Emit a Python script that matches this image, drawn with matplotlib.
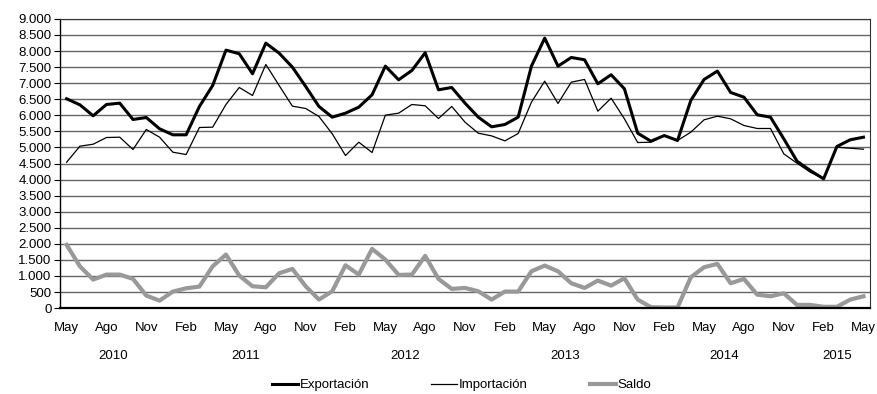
import matplotlib
matplotlib.use("Agg")
import matplotlib.pyplot as plt
from matplotlib.ticker import FuncFormatter, MultipleLocator

plt.rcParams["font.family"] = ["Liberation Sans", "DejaVu Sans"]

# Monthly series, May 2010 - May 2015 (millions)
exportacion = [
    6515, 6327, 5985, 6337, 6378, 5870, 5932, 5580, 5393, 5393, 6275, 6929,
    8028, 7916, 7293, 8246, 7935, 7499, 6898, 6275, 5942, 6067, 6254, 6638,
    7530, 7105, 7396, 7947, 6794, 6866, 6378, 5942, 5642, 5714, 5942, 7530,
    8402, 7530, 7800, 7728, 6981, 7262, 6825, 5443, 5194, 5371, 5216, 6462,
    7116, 7375, 6711, 6565, 6016, 5942, 5269, 4571, 4282, 4023, 5029, 5238,
    5319,
]
importacion = [
    4540, 5039, 5101, 5309, 5319, 4936, 5559, 5319, 4852, 4780, 5621, 5631,
    6337, 6866, 6617, 7583, 6929, 6285, 6213, 5963, 5425, 4749, 5163, 4842,
    6004, 6067, 6337, 6296, 5900, 6275, 5786, 5443, 5360, 5205, 5433, 6409,
    7063, 6368, 7032, 7116, 6128, 6533, 5891, 5153, 5163, 5371, 5216, 5475,
    5860, 5973, 5891, 5683, 5590, 5590, 4801, 4509, 4229, 4023, 5008, 4976,
    4945,
]
saldo = [
    1968, 1302, 887, 1043, 1043, 909, 389, 233, 514, 617, 670, 1302,
    1666, 1012, 680, 648, 1084, 1220, 680, 265, 524, 1333, 1043, 1843,
    1510, 1033, 1043, 1625, 909, 597, 628, 524, 265, 514, 514, 1146,
    1323, 1146, 773, 628, 856, 700, 929, 265, 30, 20, 20, 960,
    1272, 1376, 773, 909, 420, 368, 462, 100, 100, 40, 40, 265,
    368,
]
month_labels = ["May", "Ago", "Nov", "Feb"]
years = ["2010", "2011", "2012", "2013", "2014", "2015"]
# first and last month index of each year within the series
year_spans = [(0, 7), (8, 19), (20, 31), (32, 43), (44, 55), (56, 60)]

x = list(range(len(exportacion)))
fs = 9.5

fig = plt.figure(figsize=(8.78, 3.94), dpi=100)
ax = fig.add_axes([0.0683, 0.218, 0.9227, 0.734])

ax.plot(x, exportacion, color="black", lw=2.2, label="Exportación", zorder=4)
ax.plot(x, importacion, color="black", lw=0.9, label="Importación", zorder=3)
ax.plot(x, saldo, color="#999999", lw=3.0, label="Saldo", zorder=2)

ax.set_xlim(-0.5, len(x) - 0.5)
ax.set_ylim(0, 9000)
ax.yaxis.set_major_locator(MultipleLocator(500))
ax.yaxis.set_major_formatter(
    FuncFormatter(lambda v, p: f"{int(v):,}".replace(",", "."))
)
ax.grid(axis="y", color="#666666", lw=1.0)
ax.set_axisbelow(True)

ax.set_xticks(x[::3])
ax.set_xticklabels([month_labels[i % 4] for i in range(len(x[::3]))])
ax.tick_params(axis="x", length=0, pad=10, labelsize=fs)
ax.tick_params(axis="y", direction="out", length=4, width=0.8, pad=2, labelsize=fs)

for side in ["top", "right"]:
    ax.spines[side].set_color("#333333")
    ax.spines[side].set_linewidth(0.8)
ax.spines["left"].set_linewidth(1.0)
ax.spines["bottom"].set_linewidth(1.6)

# year group labels under the month labels
for year, (a, b) in zip(years, year_spans):
    ax.text((a + b) / 2, -0.167, year, transform=ax.get_xaxis_transform(),
            ha="center", va="center", fontsize=fs)

fig.legend(loc="center", bbox_to_anchor=(0.526, 0.022), ncol=3, frameon=False,
           fontsize=fs, handlelength=1.95, handletextpad=0.15, columnspacing=4.7)

fig.savefig("out.png", dpi=100)
